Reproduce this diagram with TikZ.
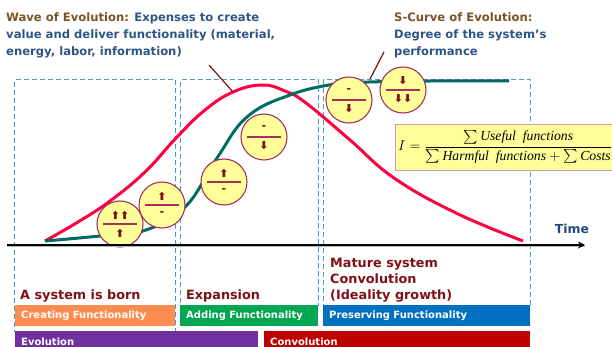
\documentclass[tikz,border=0pt]{standalone}
\usepackage{amsmath, amssymb}
\usepackage{fontspec}
\setmainfont{DejaVu Sans}
\newfontfamily\formulafont{Liberation Serif}
\usepackage{xcolor}
\usetikzlibrary{arrows.meta, positioning, calc}
\definecolor{titlebrown}{HTML}{7A5428}
\definecolor{titleblue}{HTML}{2F5487}
\definecolor{timeblue}{HTML}{1F497D}
\definecolor{darkred}{HTML}{7F1015}
\definecolor{boxblue}{HTML}{4A9CC7}
\definecolor{curvered}{HTML}{FF0040}
\definecolor{curveteal}{HTML}{006B64}
\definecolor{bubblefill}{HTML}{FFFF99}
\definecolor{bubbleline}{HTML}{A83060}
\definecolor{barorange}{HTML}{FF8C50}
\definecolor{bargreen}{HTML}{00A651}
\definecolor{barblue}{HTML}{0070C0}
\definecolor{barpurple}{HTML}{7030A0}
\definecolor{barred}{HTML}{C00000}
\tikzset{
    stagebox/.style={
        draw=boxblue,
        line width=1.1pt,
        dash pattern=on 5pt off 3pt,
    },
    bubble/.style={
        circle,
        line width=1.1pt,
        draw=bubbleline,
        fill=bubblefill,
        minimum size=46pt,
        inner sep=0pt,
    },
    sign/.style={
        font=\bfseries\fontsize{11}{11}\selectfont,
        text=darkred,
        inner sep=0pt,
    },
    heading/.style={
        font=\bfseries\fontsize{11.6}{17}\selectfont,
        align=left,
        anchor=north west,
        inner sep=0pt,
    },
    stagetext/.style={
        font=\bfseries\fontsize{12.8}{16}\selectfont,
        text=darkred,
        align=left,
        anchor=south west,
        text depth=0pt,
        inner sep=0pt,
    },
    bar/.style={
        font=\bfseries\fontsize{10}{12}\selectfont,
        text=white,
        anchor=north west,
        align=left,
        inner sep=0pt,
        inner xsep=6pt,
    },
    leader/.style={
        draw=darkred,
        line width=1.2pt,
    },
    divider/.style={
        draw=bubbleline,
        line width=1.1pt,
    },
}

\begin{document}
\begin{tikzpicture}[x=1pt, y=-1pt]
      \useasboundingbox (0,0) rectangle (612,347);

      % phases
      \node[stagebox, minimum width=161pt, minimum height=252pt, anchor=north west] (phase1) at (14,79) {};
      \node[stagebox, minimum width=138pt, minimum height=226pt, anchor=north west] (phase2) at (180,79) {};
      \node[stagebox, minimum width=207pt, minimum height=226pt, anchor=north west] (phase3) at (323,79) {};

      % curves
      \draw[curvered, line width=3pt] plot[smooth, tension=0.7] coordinates {(45,241) (78,222) (110,201) (145,172) (177,137) (205,110) (233,92) (262,85) (285,91) (306,103) (350,140) (394,178) (456,213) (523,241)};
      \draw[curveteal, line width=3pt] plot[smooth, tension=0.7] coordinates {(45,241) (100,236) (143,231) (185,207) (217,158) (247,117) (290,95) (335,84) (369,82) (430,81) (509,81)};

      % bubbles
      \node[bubble] (b1) at (120,224) {};
      \node[bubble] (b2) at (162,205) {};
      \node[bubble] (b3) at (224,182) {};
      \node[bubble] (b4) at (264,137) {};
      \node[bubble] (b5) at (349,100) {};
      \node[bubble] (b6) at (403,90) {};

      \draw[divider] ([xshift=-17pt]b1.center) -- ([xshift=17pt]b1.center);
      \draw[divider] ([xshift=-17pt]b2.center) -- ([xshift=17pt]b2.center);
      \draw[divider] ([xshift=-17pt]b3.center) -- ([xshift=17pt]b3.center);
      \draw[divider] ([xshift=-17pt]b4.center) -- ([xshift=17pt]b4.center);
      \draw[divider] ([xshift=-17pt]b5.center) -- ([xshift=17pt]b5.center);
      \draw[divider] ([xshift=-17pt]b6.center) -- ([xshift=17pt]b6.center);

      \node[sign] (b1top) at ([yshift=9pt]b1.center) {⬆⬆};
      \node[sign] (b1bot) at ([yshift=-9pt]b1.center) {⬆};
      \node[sign] (b2top) at ([yshift=9pt]b2.center) {⬆};
      \node[sign] (b2bot) at ([yshift=-9pt]b2.center) {-};
      \node[sign] (b3top) at ([yshift=9pt]b3.center) {⬆};
      \node[sign] (b3bot) at ([yshift=-9pt]b3.center) {-};
      \node[sign] (b4top) at ([yshift=9pt]b4.center) {-};
      \node[sign] (b4bot) at ([yshift=-9pt]b4.center) {⬇};
      \node[sign] (b5top) at ([yshift=9pt]b5.center) {-};
      \node[sign] (b5bot) at ([yshift=-9pt]b5.center) {⬇};
      \node[sign] (b6top) at ([yshift=9pt]b6.center) {⬇};
      \node[sign] (b6bot) at ([yshift=-9pt]b6.center) {⬇⬇};

      % headings
      \node[heading] (wave) at (6,12) {\textcolor{titlebrown}{Wave of Evolution:} \textcolor{titleblue}{Expenses to create}\\\textcolor{titleblue}{value and deliver functionality (material,}\\\textcolor{titleblue}{energy, labor, information)}};
      \node[heading] (scurve) at (394,12) {\textcolor{titlebrown}{S-Curve of Evolution:}\\\textcolor{titleblue}{Degree of the system’s}\\\textcolor{titleblue}{performance}};

      \coordinate (waveend) at (209,65);
      \coordinate (wavetip) at (233,92);
      \coordinate (scurveend) at (384,52);
      \coordinate (scurvetip) at (370,79);
      \draw[leader] (waveend) -- (wavetip);
      \draw[leader] (scurveend) -- (scurvetip);

      % formula
      \node[draw=bubbleline!50, fill=bubblefill, semithick, minimum width=217pt, minimum height=46pt, inner sep=0pt, anchor=north west] (formula) at (395,124) {};
      \node[font=\formulafont\fontsize{13.7}{16}\selectfont, inner sep=0pt, anchor=west] (ideal) at (398,147) {$I=\dfrac{\sum \text{\itshape Useful\ \ functions}}{\sum \text{\itshape Harmful\ \ functions}+\sum \text{\itshape Costs}}$};

      % time axis
      \coordinate (axisstart) at (7,245);
      \coordinate (axisend) at (585,245);
      \draw[gray!60, line width=1pt] ([yshift=-1pt]axisstart) -- ([yshift=-1pt]axisend);
      \draw[-{Stealth[length=7pt, width=7pt]}, line width=1.5pt] (axisstart) -- (axisend);
      \node[font=\bfseries\fontsize{12.4}{14}\selectfont, text=timeblue, inner sep=0pt] (time) at (572,229) {Time};

      % stage texts
      \node[stagetext, at={(20,300)}] (born) {A system is born};
      \node[stagetext, at={(186,300)}] (expansion) {Expansion};
      \node[stagetext, at={(330,300)}] (mature) {Mature system\\Convolution\\(Ideality growth)};

      % bars
      \node[bar, fill=barorange, text width=148pt, minimum height=21pt] (creating) at (15,305) {Creating Functionality};
      \node[bar, fill=bargreen, text width=126pt, minimum height=21pt] (adding) at (180,305) {Adding Functionality};
      \node[bar, fill=barblue, text width=195pt, minimum height=21pt] (preserving) at (323,305) {Preserving Functionality};
      \node[bar, fill=barpurple, text width=231pt, minimum height=21pt] (evolution) at (15,331) {Evolution};
      \node[bar, fill=barred, text width=254pt, minimum height=21pt] (convolution) at (264,331) {Convolution};
    \end{tikzpicture}
\end{document}
